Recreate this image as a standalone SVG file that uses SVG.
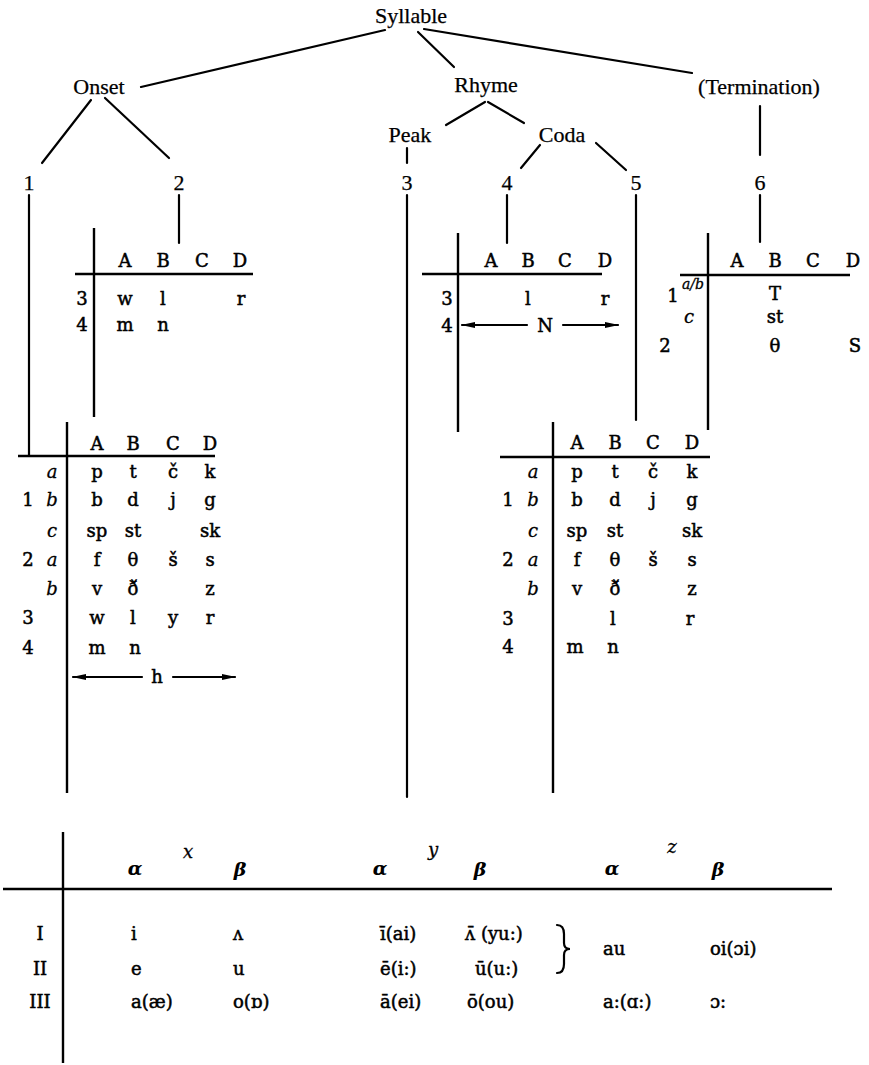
<svg xmlns="http://www.w3.org/2000/svg" width="869" height="1065" viewBox="0 0 869 1065">
<defs>
<style>
.lbl{font-family:"Liberation Serif",serif;font-size:22px;fill:#000;text-anchor:middle;stroke:#000;stroke-width:0.25}
.t{font-family:"DejaVu Serif",serif;font-size:18px;fill:#000;text-anchor:middle;stroke:#000;stroke-width:0.5}
.it{font-family:"DejaVu Serif",serif;font-style:italic;font-size:18px;fill:#000;text-anchor:middle;stroke:#000;stroke-width:0.3}
.gr{font-family:"DejaVu Serif",serif;font-style:italic;font-weight:bold;font-size:19px;fill:#000;text-anchor:middle}
.ln{stroke:#000;stroke-width:2.2;fill:none;stroke-linecap:round}
.tl{stroke:#000;stroke-width:2.4;fill:none}
</style>
<marker id="ah" markerWidth="14" markerHeight="8" refX="13" refY="4" orient="auto" markerUnits="userSpaceOnUse">
<path d="M0,1 L14,4 L0,7 Z" fill="#000"/>
</marker>
</defs>
<rect width="869" height="1065" fill="#fff"/>

<g id="connectors" class="ln">
<line x1="141" y1="87" x2="385" y2="30"/>
<line x1="418" y1="32" x2="454" y2="67"/>
<line x1="424" y1="29" x2="692" y2="73"/>
<line x1="91" y1="100" x2="42" y2="163"/>
<line x1="105" y1="98" x2="169" y2="158"/>
<line x1="485" y1="102" x2="446" y2="125"/>
<line x1="488" y1="102" x2="524" y2="123"/>
<line x1="407" y1="148" x2="407" y2="163"/>
<line x1="540" y1="145" x2="521" y2="168"/>
<line x1="596" y1="143" x2="626" y2="170"/>
<line x1="760" y1="106" x2="760" y2="155"/>
<line x1="29" y1="195" x2="29" y2="456"/>
<line x1="179" y1="195" x2="179" y2="243"/>
<line x1="407" y1="195" x2="407" y2="797"/>
<line x1="507" y1="195" x2="507" y2="243"/>
<line x1="636" y1="195" x2="636" y2="420"/>
<line x1="760" y1="195" x2="760" y2="242"/>
</g>

<g id="syllable"><text class="lbl" x="411" y="23">Syllable</text></g>
<g id="onset"><text class="lbl" x="99" y="94">Onset</text></g>
<g id="rhyme"><text class="lbl" x="486" y="92">Rhyme</text></g>
<g id="termination"><text class="lbl" x="759" y="94">(Termination)</text></g>
<g id="peak"><text class="lbl" x="410" y="142">Peak</text></g>
<g id="coda"><text class="lbl" x="562" y="142">Coda</text></g>
<g id="n1"><text class="lbl" x="29" y="190">1</text></g>
<g id="n2"><text class="lbl" x="179" y="190">2</text></g>
<g id="n3"><text class="lbl" x="407" y="190">3</text></g>
<g id="n4"><text class="lbl" x="507" y="190">4</text></g>
<g id="n5"><text class="lbl" x="636" y="190">5</text></g>
<g id="n6"><text class="lbl" x="760" y="190">6</text></g>

<g id="table2">
<line class="tl" x1="94" y1="228" x2="94" y2="417"/>
<line class="tl" x1="75" y1="274" x2="253" y2="274"/>
<text class="t" x="125" y="267">A</text><text class="t" x="163" y="267">B</text><text class="t" x="202" y="267">C</text><text class="t" x="240" y="267">D</text>
<text class="t" x="82" y="305">3</text><text class="t" x="125" y="305">w</text><text class="t" x="163" y="305">l</text><text class="t" x="241" y="305">r</text>
<text class="t" x="82" y="331">4</text><text class="t" x="125" y="331">m</text><text class="t" x="163" y="331">n</text>
</g>

<g id="table4">
<line class="tl" x1="458" y1="233" x2="458" y2="432"/>
<line class="tl" x1="422" y1="274" x2="602" y2="274"/>
<text class="t" x="491" y="267">A</text><text class="t" x="528" y="267">B</text><text class="t" x="565" y="267">C</text><text class="t" x="605" y="267">D</text>
<text class="t" x="447" y="305">3</text><text class="t" x="528" y="305">l</text><text class="t" x="605" y="305">r</text>
<text class="t" x="447" y="332">4</text>
<line class="ln" x1="527" y1="325" x2="462" y2="325" marker-end="url(#ah)"/>
<text class="t" x="545" y="332">N</text>
<line class="ln" x1="563" y1="325" x2="618" y2="325" marker-end="url(#ah)"/>
</g>

<g id="table6">
<line class="tl" x1="708" y1="233" x2="708" y2="430"/>
<line class="tl" x1="680" y1="275" x2="850" y2="275"/>
<text class="t" x="737" y="267">A</text><text class="t" x="775" y="267">B</text><text class="t" x="813" y="267">C</text><text class="t" x="853" y="267">D</text>
<text class="t" x="673" y="302">1</text><text class="it" x="693" y="289" style="font-size:14px">a/b</text><text class="t" x="775" y="300">T</text>
<text class="it" x="689" y="323">c</text><text class="t" x="775" y="323">st</text>
<text class="t" x="665" y="352">2</text><text class="t" x="775" y="352">θ</text><text class="t" x="855" y="352">S</text>
</g>

<g id="table1">
<line class="tl" x1="67" y1="422" x2="67" y2="793"/>
<line class="tl" x1="18" y1="456" x2="215" y2="456"/>
<text class="t" x="97" y="450">A</text><text class="t" x="133" y="450">B</text><text class="t" x="173" y="450">C</text><text class="t" x="210" y="450">D</text>
<text class="it" x="52" y="478">a</text><text class="t" x="97" y="478">p</text><text class="t" x="133" y="478">t</text><text class="t" x="173" y="478">č</text><text class="t" x="210" y="478">k</text>
<text class="t" x="28" y="506">1</text><text class="it" x="52" y="506">b</text><text class="t" x="97" y="506">b</text><text class="t" x="133" y="506">d</text><text class="t" x="173" y="506">j</text><text class="t" x="210" y="506">g</text>
<text class="it" x="52" y="537">c</text><text class="t" x="97" y="537">sp</text><text class="t" x="133" y="537">st</text><text class="t" x="210" y="537">sk</text>
<text class="t" x="28" y="566">2</text><text class="it" x="52" y="566">a</text><text class="t" x="97" y="566">f</text><text class="t" x="133" y="566">θ</text><text class="t" x="173" y="566">š</text><text class="t" x="210" y="566">s</text>
<text class="it" x="52" y="595">b</text><text class="t" x="97" y="595">v</text><text class="t" x="133" y="595">ð̌</text><text class="t" x="210" y="595">z</text>
<text class="t" x="28" y="624">3</text><text class="t" x="97" y="624">w</text><text class="t" x="133" y="624">l</text><text class="t" x="173" y="624">y</text><text class="t" x="210" y="624">r</text>
<text class="t" x="28" y="654">4</text><text class="t" x="97" y="654">m</text><text class="t" x="135" y="654">n</text>
<line class="ln" x1="142" y1="677" x2="73" y2="677" marker-end="url(#ah)"/>
<text class="t" x="157" y="683">h</text>
<line class="ln" x1="173" y1="677" x2="235" y2="677" marker-end="url(#ah)"/>
</g>

<g id="table5">
<line class="tl" x1="553" y1="422" x2="553" y2="793"/>
<line class="tl" x1="500" y1="457" x2="710" y2="457"/>
<text class="t" x="577" y="449">A</text><text class="t" x="615" y="449">B</text><text class="t" x="653" y="449">C</text><text class="t" x="692" y="449">D</text>
<text class="it" x="533" y="478">a</text><text class="t" x="577" y="478">p</text><text class="t" x="615" y="478">t</text><text class="t" x="653" y="478">č</text><text class="t" x="692" y="478">k</text>
<text class="t" x="508" y="506">1</text><text class="it" x="533" y="506">b</text><text class="t" x="577" y="506">b</text><text class="t" x="615" y="506">d</text><text class="t" x="653" y="506">j</text><text class="t" x="692" y="506">g</text>
<text class="it" x="533" y="537">c</text><text class="t" x="577" y="537">sp</text><text class="t" x="615" y="537">st</text><text class="t" x="692" y="537">sk</text>
<text class="t" x="508" y="566">2</text><text class="it" x="533" y="566">a</text><text class="t" x="577" y="566">f</text><text class="t" x="615" y="566">θ</text><text class="t" x="653" y="566">š</text><text class="t" x="692" y="566">s</text>
<text class="it" x="533" y="595">b</text><text class="t" x="577" y="595">v</text><text class="t" x="615" y="595">ð̌</text><text class="t" x="692" y="595">z</text>
<text class="t" x="508" y="625">3</text><text class="t" x="613" y="625">l</text><text class="t" x="690" y="625">r</text>
<text class="t" x="508" y="653">4</text><text class="t" x="575" y="653">m</text><text class="t" x="613" y="653">n</text>
</g>

<g id="vowels">
<line class="tl" x1="63" y1="832" x2="63" y2="1063"/>
<line class="tl" x1="3" y1="889" x2="832" y2="889"/>
<text class="gr" x="135" y="875">α</text><text class="it" x="188" y="858">x</text><text class="gr" x="240" y="876">β</text>
<text class="gr" x="380" y="875">α</text><text class="it" x="433" y="856">y</text><text class="gr" x="480" y="876">β</text>
<text class="gr" x="612" y="875">α</text><text class="it" x="672" y="853">z</text><text class="gr" x="718" y="876">β</text>
<text class="t" x="40" y="940">I</text><text class="t" x="40" y="975">II</text><text class="t" x="40" y="1008">III</text>
<text class="t" x="131" y="940" style="text-anchor:start">i</text>
<text class="t" x="233" y="940" style="text-anchor:start">ʌ</text>
<text class="t" x="380" y="940" style="text-anchor:start">ī(ai)</text>
<text class="t" x="465" y="940" style="text-anchor:start">ʌ̄ (yu:)</text>
<text class="t" x="131" y="975" style="text-anchor:start">e</text>
<text class="t" x="233" y="975" style="text-anchor:start">u</text>
<text class="t" x="380" y="975" style="text-anchor:start">ē(i:)</text>
<text class="t" x="475" y="975" style="text-anchor:start">ū(u:)</text>
<text class="t" x="131" y="1008" style="text-anchor:start">a(æ)</text>
<text class="t" x="233" y="1008" style="text-anchor:start">o(ɒ)</text>
<text class="t" x="380" y="1008" style="text-anchor:start">ā(ei)</text>
<text class="t" x="467" y="1008" style="text-anchor:start">ō(ou)</text>
<text class="t" x="603" y="955" style="text-anchor:start">au</text>
<text class="t" x="710" y="955" style="text-anchor:start">oi(ɔi)</text>
<text class="t" x="603" y="1008" style="text-anchor:start">a:(ɑ:)</text>
<text class="t" x="710" y="1008" style="text-anchor:start">ɔ:</text>
<path d="M557,925 Q564,925 564,934 L564,943 Q564,949 570,949 Q564,949 564,955 L564,964 Q564,973 557,973" class="ln" stroke-width="2.4"/>
</g>
</svg>
